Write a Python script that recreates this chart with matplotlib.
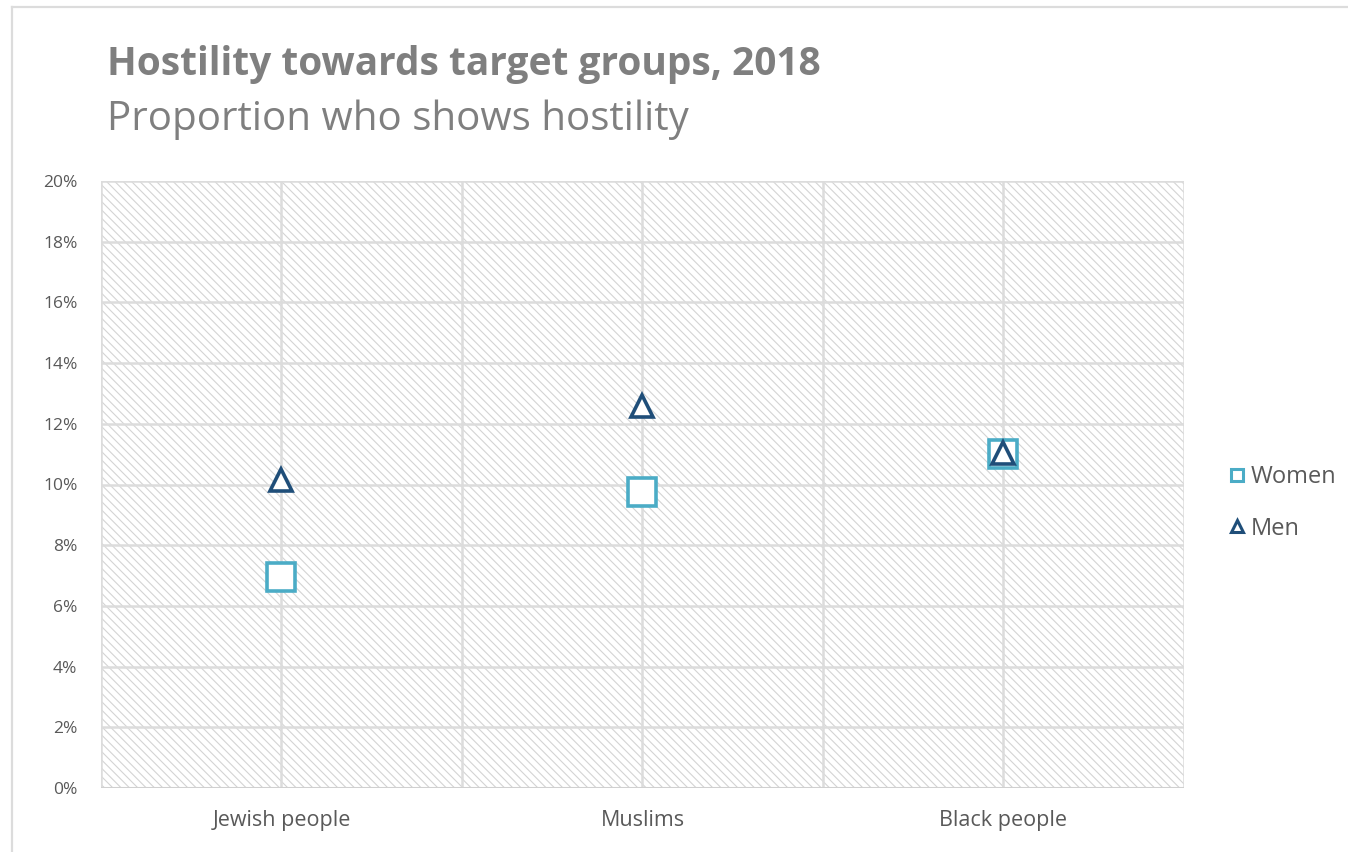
import numpy as np
import matplotlib
matplotlib.use("Agg")
import matplotlib.pyplot as plt
from matplotlib.patches import Rectangle
from matplotlib.lines import Line2D

categories = ["Jewish people", "Muslims", "Black people"]
women = [0.0695, 0.0975, 0.110]
men = [0.1015, 0.126, 0.1105]
yticks = [0.00, 0.02, 0.04, 0.06, 0.08, 0.10, 0.12, 0.14, 0.16, 0.18, 0.20]
ytick_labels = ["0%", "2%", "4%", "6%", "8%", "10%", "12%", "14%", "16%", "18%", "20%"]

plt.rcParams['font.family'] = ['Open Sans', 'DejaVu Sans']
plt.rcParams['hatch.linewidth'] = 0.8
txt = '#595959'
grid = '#dcdcdc'
c_women = '#4bacc6'
c_men = '#1f4e79'

fig = plt.figure(figsize=(13.48, 8.52), dpi=100)
ax = fig.add_axes([101/1348, 1-788/852, (1184-101)/1348, (788-181)/852])

x = np.arange(len(categories))
ax.set_xlim(-0.5, len(categories)-0.5)
ax.set_ylim(0, 0.20)

# hatched plot area
ax.add_patch(Rectangle((0, 0), 1, 1, transform=ax.transAxes, facecolor='white',
                       edgecolor='#d4d4d4', lw=0, hatch='\\\\\\\\', zorder=0))

ax.set_xticks(x)
ax.set_xticklabels(categories)
ax.set_xticks(np.arange(-0.5, len(categories), 1.0), minor=True)
ax.set_yticks(yticks)
ax.set_yticklabels(ytick_labels)
ax.grid(True, which='both', color=grid, lw=1.8, zorder=1)
ax.set_axisbelow(True)
ax.tick_params(which='both', length=0)
ax.tick_params(axis='y', pad=17, labelsize=12.5, labelcolor=txt)
ax.tick_params(axis='x', pad=16, labelsize=15.5, labelcolor=txt)
for s in ax.spines.values():
    s.set_visible(False)
ax.axhline(0, color='#d0d0d0', lw=2.2, zorder=1)

ax.plot(x, women, ls='none', marker='s', ms=20, mew=2.6, mfc='white', mec=c_women,
        zorder=3, clip_on=False)
ax.plot(x, men, ls='none', marker='^', ms=16.5, mew=2.6, mfc='white', mec=c_men,
        zorder=4, clip_on=False)

handles = [Line2D([], [], ls='none', marker='s', ms=9, mew=2.2, mfc='white', mec=c_women),
           Line2D([], [], ls='none', marker='^', ms=9, mew=2.2, mfc='white', mec=c_men)]
fig.legend(handles, ['Women', 'Men'], loc='center left', bbox_to_anchor=(1218/1348, 1-503/852),
           frameon=False, fontsize=17, labelcolor=txt, handlelength=0.6, handletextpad=0.3,
           labelspacing=1.15, borderpad=0)

fig.text(107/1348, 1-75/852, "Hostility towards target groups, 2018", fontsize=28,
         fontweight='bold', color='#7f7f7f', va='baseline', ha='left')
fig.text(107/1348, 1-130/852, "Proportion who shows hostility", fontsize=29,
         color='#7f7f7f', va='baseline', ha='left')

# chart border
fig.add_artist(Line2D([12/1348, 1], [1-7/852, 1-7/852], transform=fig.transFigure, color=grid, lw=1.6))
fig.add_artist(Line2D([12/1348, 12/1348], [0, 1-7/852], transform=fig.transFigure, color=grid, lw=1.6))

fig.savefig('out.png', dpi=100)
